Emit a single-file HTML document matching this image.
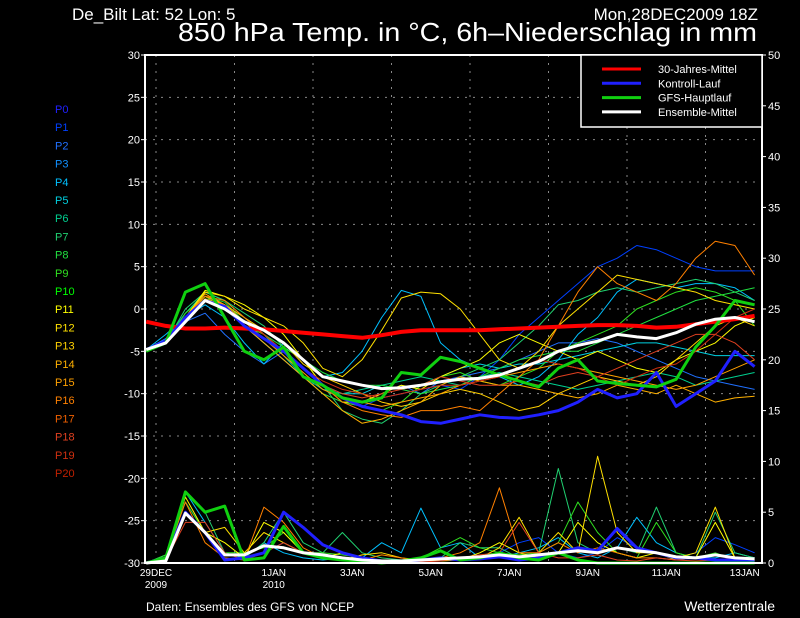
<!DOCTYPE html>
<html><head><meta charset="utf-8"><style>
html,body{margin:0;padding:0;background:#000;}
svg{display:block;font-family:"Liberation Sans",sans-serif;}
</style></head><body>
<svg id="c" width="800" height="618" viewBox="0 0 800 618" xmlns="http://www.w3.org/2000/svg">
<rect width="800" height="618" fill="#000"/>
<text x="72" y="20" fill="#fff" font-size="17">De_Bilt  Lat: 52 Lon: 5</text>
<text x="758" y="20" fill="#fff" font-size="17" text-anchor="end">Mon,28DEC2009 18Z</text>
<text x="178" y="41" fill="#fff" font-size="26" textLength="579" lengthAdjust="spacingAndGlyphs">850 hPa Temp. in °C, 6h–Niederschlag in mm</text>
<text x="146" y="611" fill="#fff" font-size="12">Daten: Ensembles des GFS von NCEP</text>
<text x="775" y="611" fill="#fff" font-size="14" text-anchor="end">Wetterzentrale</text>
<g id="grid"></g>
<g id="prec"></g>
<g id="temp"></g>
<g id="axes"></g>
<g id="members-legend"></g>
<g id="legend"></g>
</svg>
<script>
const times = [-0.25,0.25,0.75,1.25,1.75,2.25,2.75,3.25,3.75,4.25,4.75,5.25,5.75,6.25,6.75,7.25,7.75,8.25,8.75,9.25,9.75,10.25,10.75,11.25,11.75,12.25,12.75,13.25,13.75,14.25,14.75,15.25];
const tempTicks = [30,25,20,15,10,5,0,-5,-10,-15,-20,-25,-30];
const precTicks = [50,45,40,35,30,25,20,15,10,5,0];
const dayTicks = [0,2,4,6,8,10,12,14];
const dayLabels = ["29DEC","1JAN","3JAN","5JAN","7JAN","9JAN","11JAN","13JAN"];
const dayLabelPos = [0,3,5,7,9,11,13,15];
const climate = [-1.5,-2,-2.3,-2.3,-2.2,-2.3,-2.4,-2.6,-2.8,-3,-3.2,-3.4,-3.1,-2.7,-2.5,-2.5,-2.5,-2.5,-2.4,-2.3,-2.2,-2.1,-2,-1.9,-1.9,-2,-2.2,-2.1,-1.8,-1.5,-1.2,-0.8];
const meanT = [-4.8,-4,-1.5,1,0,-1.5,-2.5,-4,-6,-8,-8.5,-9,-9.4,-9.3,-9,-8.6,-8.3,-8.2,-7.8,-7,-6.2,-5,-4.3,-3.8,-3,-3.3,-3.5,-2.8,-1.8,-1.2,-1,-1.5];
const controlT = [-4.8,-3.8,-1,1,0.3,-2,-3.5,-5,-7,-9,-10.5,-11.5,-12,-12.5,-13.3,-13.5,-13,-12.5,-12.8,-12.9,-12.5,-12,-11,-9.5,-10.5,-10,-7.5,-11.5,-10,-8.5,-5,-6.8];
const gfsT = [-5,-4,2,3,-1,-5,-6,-4.5,-8,-9,-10.5,-11,-10.5,-7.5,-7.8,-5.7,-6.2,-7,-7.8,-8.5,-9.2,-7,-6,-8.5,-8.8,-9,-9.2,-8.3,-4.5,-2,1,0.5];
const m1 = [-4.8,-3.5,-0.5,1.5,0.5,-2,-4,-6,-8,-10,-11,-11.5,-10.5,-10,-9.5,-9,-9.5,-8,-6,-3,-1,1,3,5,6,7.5,7,6,5,4.5,4.5,4.5];
const m2 = [-4.8,-3,-1,0.5,-1,-4,-6.5,-4,-6,-8,-7.5,-5,-1,2.2,1.5,-4,-6,-7,-8,-9,-8,-6,-3,-1,2,3.5,3,2.5,3,3,2.5,1];
const m3 = [-4.8,-4,-1,2,1.5,0,-1,-2,-4,-7,-8,-6,-2.5,1.3,2,1.8,0,-3,-6,-7,-5,-2,0,2,4,3.5,3,2.5,2,1,0.5,0];
const m4 = [-4.8,-4,-1,1.5,1,-1,-3,-5,-7,-9,-11,-12,-12.5,-12.8,-12,-12,-11.5,-12,-10,-8,-6,-2,2,5,3,2,1,3,6,8,7.5,4];
const m5 = [-4.8,-4,0,2,1,-0.5,-2,-4.5,-6,-9,-12,-13,-13.5,-12,-10,-9,-8,-7,-6,-4,-2,0.5,1,2,2.5,2,2.5,3,3.5,3,2,1];
const m6 = [-4.8,-4,-0.5,1.5,0,-2,-3,-5,-8,-10,-11,-11.5,-12,-11,-9,-8,-7.5,-8.5,-9,-8,-7,-5,-4,-3,-2,0,1,2,2.5,2,1,-2];
const m7 = [-4.8,-4,-1,1.8,0.5,-2,-4,-6,-8,-10,-12,-13.5,-13,-12,-11,-9,-8,-8.5,-9,-9,-9.5,-10,-10.5,-10,-9,-9.5,-10,-9,-10,-11,-10.5,-10.3];
const m8 = [-4.8,-4,-1,1,0,-2,-3.5,-5,-7,-9,-10,-10.5,-10,-9.5,-9,-8,-8.5,-9,-9,-8.5,-9,-8,-7.5,-8,-7,-6,-5,-4,-3,-3,-4,-6];
const m9 = [-4.8,-3.5,-1.5,-0.5,-3,-5,-6.5,-5,-7,-9,-10.5,-11,-10,-9,-10,-8.5,-8,-7.5,-7,-6,-5,-4,-4,-3.5,-4,-5,-6,-7,-8,-8.5,-9,-9.5];
const m10 = [-4.8,-4,-1,2.2,1.5,0.5,-1,-3,-6,-9,-11,-11,-10,-9,-9.5,-8,-7,-6,-4,-3,-4,-5,-6,-5,-6,-7,-7.5,-6,-5,-4,-2,-1];
const m11 = [-4.8,-4,-1.5,1,0,-2,-4,-6,-8,-9,-10,-10,-9,-9.5,-9,-8,-7,-6.5,-7,-6.5,-6.5,-6,-5.5,-5,-4.5,-4,-4,-4.5,-5,-5.5,-5.5,-5.5];
const m12 = [-4.8,-4,-1,1,0,-1.5,-3,-5,-7,-8.5,-9.5,-10,-10.5,-10,-9.5,-9,-9,-8.5,-8,-7,-6,-6.5,-7,-8,-9,-8,-7,-6.5,-5,-3,-1,0];
const m13 = [-4.8,-3.8,-0.5,2,1,-1,-3,-5.5,-8,-9.5,-10,-9.5,-9,-8.5,-8,-8.5,-9,-8,-7.5,-8,-8.5,-9,-9.5,-9,-8.5,-8,-7.5,-8,-9,-8.5,-8,-7.5];
const m14 = [-4.8,-4,-1,1.2,0.5,-1,-2.5,-4,-6.5,-8,-9,-10,-11,-11.5,-11,-10,-9.5,-10,-11,-12,-11.5,-10,-9,-8,-8.5,-9,-8,-6,-4,-2,-1,-2];
const m15 = [-4.8,-4,-1.2,1.5,0.8,-1.5,-3,-4.5,-6,-7.5,-8.5,-9,-9,-9.5,-10,-9.5,-9,-8,-7,-6,-5.5,-5,-5,-4,-3,-2,-1,0,1,1.5,2,2.5];
const m16 = [-4.8,-3.8,-1,1.5,0.5,-1.5,-3.5,-5.5,-7.5,-9.5,-10.5,-11,-11.5,-11,-10.5,-10,-9,-8.5,-8,-7.5,-7,-6.5,-7,-7.5,-8,-8.5,-9,-9.5,-9,-8,-7,-6];
const meanP = [0,0.2,4.9,3,0.8,0.8,1.7,1.5,1,0.8,0.5,0.3,0.2,0.2,0.3,0.4,0.5,0.6,0.8,0.6,0.8,1,1.2,1,1.5,1.2,1,0.6,0.5,0.8,0.5,0.4];
const controlP = [0,0.5,5,3,0.3,0.5,1,5,3.5,1.8,1,0.5,0.2,0.1,0.3,0.5,0.3,0.4,0.6,0.3,0.5,1,1.5,1.2,3.4,1.5,1,0.5,0.5,0.3,0.3,0.2];
const gfsP = [0,0.5,7,5,5.6,0.3,0.5,3.6,1,0.5,0.3,0.2,0,0.2,0.5,1.2,0.3,0.5,1,0.5,0.3,1,0.3,0,0,0,0,0,0,0,0,0];
const p1 = [0,0.5,6,3,1,0.5,1,2,1,0.5,0.3,0.2,0,0.2,0.3,0.5,0.3,0.5,1,2,2.5,1,0.5,1,2.5,1.5,1,0.5,1,2.5,1.8,1];
const p2 = [0,0.8,7,4,1,0.5,2,1,0.5,0.3,0.5,0.5,2,1,5.4,1.5,2,0.5,0.5,1,1.5,2.5,1,0.5,1.5,4.5,2,1,0.5,0.5,1,0.5];
const p3 = [0,0.5,5,3,3.5,1,3,2,1,0.5,0.3,0.8,1,0.5,0.3,0.2,0.3,0.5,1.5,4.5,1,3,1,10.5,3,1,1,0.5,1,5.5,0.5,0];
const p4 = [0,0.6,6,2,0.5,0.3,5.5,4,1.5,0.5,0.5,0.3,0.8,0.5,0.2,0.5,1,2,7.4,1,1,2,1,1.5,1,0.5,0.5,0.3,0.5,0.3,0.5,0.3];
const p5 = [0,0.8,7,5,1,0.5,2,5,2,1,3,1,0.5,0.3,0.2,0.5,2,1.5,1.5,0.5,1,9.3,2,1,1.5,1,5.5,1,0.5,5,1,0.5];
const p6 = [0,0.3,4,4,1,0.3,1,2,1,0.8,0.5,0.3,0.2,0,0.1,0.2,0.5,0.8,1,4,1,0.5,0.5,0.8,0.3,0.2,0.5,0.3,0.2,0.3,0.5,0.3];
const p7 = [0,0.5,6.5,3,2,0.5,4,3,1,0.5,1,0.3,0.2,0.1,0.3,0.5,0.3,1,2,1,0.5,1,4,2,1,0.5,1,0.3,0.5,4,0.5,0.2];
const p8 = [0,0.8,6,3,1,1,1.5,3,1,1,0.8,0.5,0.3,0.2,0.5,1.5,2.5,1.5,1,0.8,1,2,6,3,1,0.5,4,1,0.5,1,0.3,0.2];
const memberNames = ["P0","P1","P2","P3","P4","P5","P6","P7","P8","P9","P10","P11","P12","P13","P14","P15","P16","P17","P18","P19","P20"];
const memberColors = ["#2020ff","#0040ff","#2070ff","#1090ff","#00c0ff","#00d0e0","#00d090","#20d070","#20e040","#30e020","#00ff00","#ffff00","#ffe000","#ffd000","#ffb000","#ffa000","#ff8000","#f06000","#e04020","#d03010","#c02000"];

const X0=145,X1=762,Y0=55,Y1=563,PXD=39.25,TX0=156;
const xs=t=>TX0+t*PXD;
const yT=v=>Y0+(30-v)*(Y1-Y0)/60;
const yP=v=>Y1-v*(Y1-Y0)/50;
const NS="http://www.w3.org/2000/svg";
function mk(tag,attrs,parent){const e=document.createElementNS(NS,tag);for(const k in attrs)e.setAttribute(k,attrs[k]);parent.appendChild(e);return e;}
const grid=document.getElementById('grid'),axes=document.getElementById('axes'),temp=document.getElementById('temp'),prec=document.getElementById('prec');

tempTicks.forEach(v=>{
  if(v<30&&v>-30){const l=mk('line',{x1:X0,x2:X1,y1:yT(v),y2:yT(v),stroke:'#888','stroke-dasharray':'2,6','stroke-width':1},grid);
  
  }
  const tk=mk('line',{x1:X0-4,x2:X0,y1:yT(v),y2:yT(v),stroke:'#fff'},axes);
  
  
  const tx=mk('text',{x:X0-5,y:yT(v)+4,fill:'#fff','font-size':11,'text-anchor':'end'},axes);tx.textContent=v;
  
  
});
precTicks.forEach(v=>{
  const tk=mk('line',{x1:X1,x2:X1+4,y1:yP(v),y2:yP(v),stroke:'#fff'},axes);
  
  
  const tx=mk('text',{x:X1+6,y:yP(v)+4,fill:'#fff','font-size':11},axes);tx.textContent=v;
  
  
});
dayTicks.forEach(d=>{
  const l=mk('line',{x1:xs(d),x2:xs(d),y1:Y0,y2:Y1,stroke:'#888','stroke-dasharray':'2,6'},grid);
  
  
});
dayLabels.forEach((s,i)=>{
  const d=dayLabelPos[i];
  const tx=mk('text',{x:xs(d),y:Y1+13,fill:'#fff','font-size':10,'text-anchor':'middle'},axes);tx.textContent=s;
  
  
});
[["2009",0],["2010",3]].forEach(a=>{const tx=mk('text',{x:xs(a[1]),y:Y1+25,fill:'#fff','font-size':10,'text-anchor':'middle'},axes);tx.textContent=a[0];
  
  });
const fr=mk('rect',{x:X0,y:Y0,width:X1-X0,height:Y1-Y0,fill:'none',stroke:'#fff','stroke-width':2},axes);



function poly(arr,yf,color,w,parent,name){
  const pts=arr.map((v,i)=>xs(times[i]).toFixed(1)+','+yf(v).toFixed(1)).join(' ');
  const p=mk('polyline',{points:pts,fill:'none',stroke:color,'stroke-width':w,'stroke-linejoin':'round'},parent);
  
  
}
const mT=[[m1,1],[m9,2],[m2,4],[m11,5],[m13,6],[m5,7],[m15,8],[m6,9],[m10,11],[m3,12],[m14,13],[m7,14],[m16,15],[m4,16],[m8,18],[m12,19]];
const mP=[[p1,1],[p2,4],[p5,7],[p8,9],[p7,11],[p3,12],[p4,16],[p6,18]];
mP.forEach(a=>poly(a[0],yP,memberColors[a[1]],1,prec,'precip-member-line'));
poly(controlP,yP,'#2020ff',3,prec,'precip-control-line');
poly(gfsP,yP,'#10d010',3,prec,'precip-gfs-line');
poly(meanP,yP,'#fff',3,prec,'precip-mean-line');
mT.forEach(a=>poly(a[0],yT,memberColors[a[1]],1,temp,'temp-member-line'));
poly(climate,yT,'#ff0000',4,temp,'climate-mean-line');
poly(controlT,yT,'#2020ff',3,temp,'temp-control-line');
poly(gfsT,yT,'#10d010',3,temp,'temp-gfs-line');
poly(meanT,yT,'#fff',3,temp,'temp-mean-line');

const ml=document.getElementById('members-legend');
memberNames.forEach((n,i)=>{const tx=mk('text',{x:55,y:113+i*18.2,fill:memberColors[i],'font-size':11},ml);tx.textContent=n;
  
  });

const lg=document.getElementById('legend');
const lb=mk('rect',{x:581,y:55,width:181,height:72,fill:'#000',stroke:'#fff','stroke-width':1.5},lg);


[["30-Jahres-Mittel","#ff0000"],["Kontroll-Lauf","#2020ff"],["GFS-Hauptlauf","#10d010"],["Ensemble-Mittel","#fff"]].forEach((e,i)=>{
  const y=69+i*14.3;
  const l=mk('line',{x1:602,x2:641,y1:y,y2:y,stroke:e[1],'stroke-width':3},lg);
  
  
  const tx=mk('text',{x:658,y:y+4,fill:'#fff','font-size':11},lg);tx.textContent=e[0];
  
  
});
</script>
</body></html>
